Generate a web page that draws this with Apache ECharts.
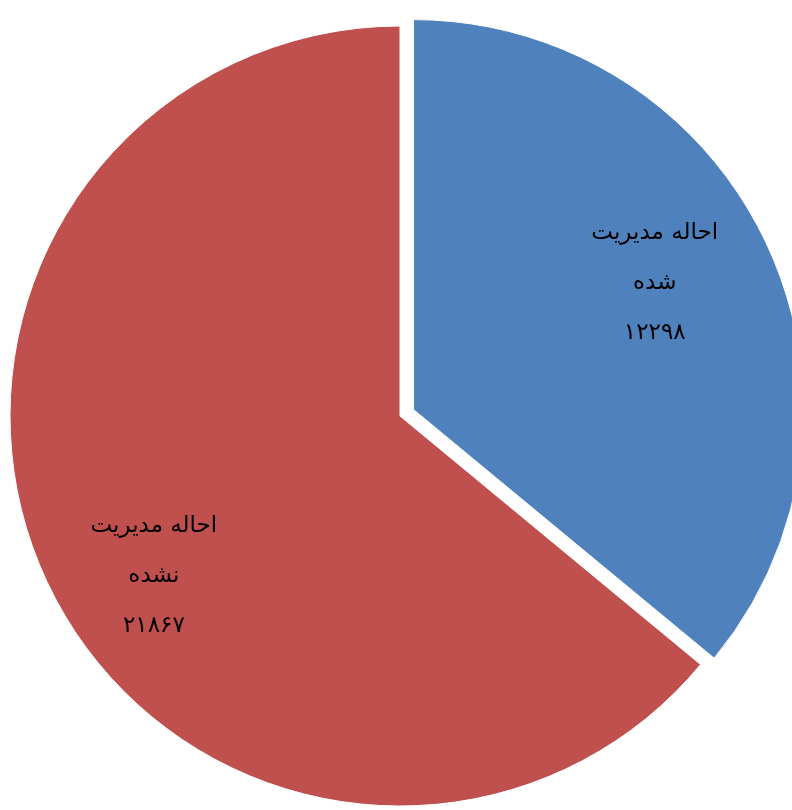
<!DOCTYPE html>
<html>
<head>
<meta charset="utf-8">
<script src="https://cdn.jsdelivr.net/npm/echarts@6/dist/echarts.min.js"></script>
<style>
html,body{margin:0;padding:0;background:#fff;}
#c{width:792px;height:810px;}
</style>
</head>
<body>
<div id="c"></div>
<script>
const categories = ['احاله مدیریت\nشده', 'احاله مدیریت\nنشده'];
const values = [12298, 21867];
const colors = ['#4F81BD', '#C0504D'];
const labelShift = [[62, -42], [-67, 76]];

function toPersianDigits(n) {
  const d = '۰۱۲۳۴۵۶۷۸۹';
  return String(n).replace(/[0-9]/g, c => d[+c]);
}

const chart = echarts.init(document.getElementById('c'), null, {renderer: 'canvas'});
chart.setOption({
  backgroundColor: '#ffffff',
  animation: false,
  series: [{
    type: 'pie',
    center: [400, 416],
    radius: 390,
    startAngle: 90,
    clockwise: true,
    selectedMode: 'single',
    selectedOffset: 15,
    avoidLabelOverlap: false,
    itemStyle: {borderColor: '#ffffff', borderWidth: 1},
    emphasis: {disabled: true},
    label: {
      show: true,
      position: 'inside',
      color: '#000000',
      fontFamily: 'DejaVu Sans',
      fontSize: 23,
      lineHeight: 50,
      align: 'center',
      formatter: p => p.name + '\n' + toPersianDigits(p.value)
    },
    labelLine: {show: false},
    labelLayout: p => ({dx: labelShift[p.dataIndex][0], dy: labelShift[p.dataIndex][1]}),
    data: categories.map((c, i) => ({
      name: c,
      value: values[i],
      selected: i === 0,
      itemStyle: {color: colors[i]}
    }))
  }]
});
</script>
</body>
</html>
